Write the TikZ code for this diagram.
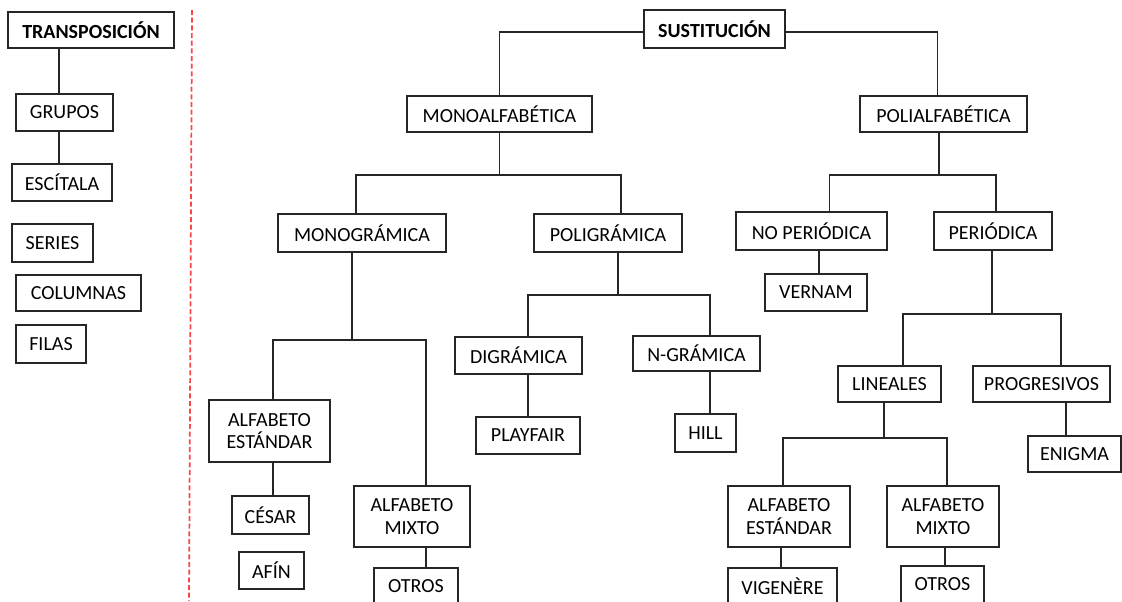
\documentclass[tikz,border=0pt]{standalone}
\usepackage{fontspec}
\setmainfont{Carlito}
\usetikzlibrary{calc}

\definecolor{rojo}{RGB}{250,70,75}
\tikzset{
  caja/.style={draw=black!85, line width=1.25pt, inner sep=0pt, align=center,
    font=\fontsize{15}{17}\selectfont},
  ancho/.style={minimum width=#1*0.75pt},
  alto/.style={minimum height=#1*0.75pt},
  linea/.style={draw=black!85, line width=1.2pt},
}

\begin{document}
\begin{tikzpicture}[x=0.75pt, y=-0.75pt]
    \clip (0,0) rectangle (1122,601);
    \begin{scope} % Transposicion
        \node[caja, ancho=166, alto=36] (transp) at (91,30) {\bfseries TRANSPOSICIÓN};
        \node[caja, ancho=97, alto=37] (grupos) at (64.5,112.5) {GRUPOS};
        \node[caja, ancho=100, alto=37] (escitala) at (62,182.5) {ESCÍTALA};
        \node[caja, ancho=81, alto=38] (series) at (52.5,243) {SERIES};
        \node[caja, ancho=125, alto=36] (columnas) at (78.5,293) {COLUMNAS};
        \node[caja, ancho=70, alto=38] (filas) at (51,344) {FILAS};
        \draw[linea] ($(grupos.north)+(-5.5,0)$) -- ++(0,-46);
        \draw[linea] ($(escitala.north)+(-3,0)$) -- ++(0,-33);
    \end{scope}
    \draw[rojo, line width=1.3pt, dash pattern=on 3.75pt off 2pt] (192,10) -- (189,601);
    \begin{scope} % Sustitucion
        \node[caja, ancho=141, alto=38] (sust) at (714.5,29) {\bfseries SUSTITUCIÓN};
        \node[caja, ancho=185, alto=36] (mono) at (499.5,114) {MONOALFABÉTICA};
        \node[caja, ancho=167, alto=36] (poli) at (943.5,114) {POLIALFABÉTICA};
        \draw[linea] (mono.north) |- ($(sust.west)+(0,3)$);
        \draw[linea] ($(poli.north)+(-6,0)$) |- ($(sust.east)+(0,3)$);
    \end{scope}
    \begin{scope} % Monoalfabetica
        \node[caja, ancho=168, alto=38] (monog) at (362,233) {MONOGRÁMICA};
        \node[caja, ancho=148, alto=38] (polig) at (608,233) {POLIGRÁMICA};
        \draw[linea] (mono.south) -- ++(0,42) coordinate (bm);
        \draw[linea] ($(monog.north)+(-6,0)$) |- (bm) -| ($(polig.north)+(13,0)$);
        \node[caja, ancho=121, alto=62] (altest) at (269.5,431) {ALFABETO\\ESTÁNDAR};
        \node[caja, ancho=116, alto=61] (altmix) at (412,516.5) {ALFABETO\\MIXTO};
        \draw[linea] ($(monog.south)+(-10,0)$) -- ++(0,87) coordinate (bmg);
        \draw[linea] ($(altest.north)+(3.5,0)$) |- (bmg) -| ($(altmix.north)+(14,0)$);
        \node[caja, ancho=77, alto=38] (cesar) at (270.5,515) {CÉSAR};
        \node[caja, ancho=65, alto=37] (afin) at (271.5,570.5) {AFÍN};
        \node[caja, ancho=84, alto=37] (otros) at (416,586.5) {OTROS};
        \draw[linea] ($(cesar.north)+(2.5,0)$) -- ++(0,-34);
        \draw[linea] ($(otros.north)+(10,0)$) -- ++(0,-21);
        \node[caja, ancho=127, alto=37] (digr) at (518.5,355.5) {DIGRÁMICA};
        \node[caja, ancho=127, alto=35] (ngr) at (696.5,353.5) {N-GRÁMICA};
        \draw[linea] ($(polig.south)+(10,0)$) -- ++(0,42) coordinate (bpg);
        \draw[linea] ($(digr.north)+(9.5,0)$) |- (bpg) -| ($(ngr.north)+(13.5,0)$);
        \node[caja, ancho=104, alto=37] (playfair) at (528,435.5) {PLAYFAIR};
        \node[caja, ancho=61, alto=38] (hill) at (705.5,433) {HILL};
        \draw[linea] (playfair.north) -- ++(0,-43);
        \draw[linea] ($(hill.north)+(4.5,0)$) -- ++(0,-43);
    \end{scope}
    \begin{scope} % Polialfabetica
        \node[caja, ancho=151, alto=38] (noper) at (811.5,231) {NO PERIÓDICA};
        \node[caja, ancho=118, alto=38] (per) at (993,231) {PERIÓDICA};
        \draw[linea] ($(poli.south)+(-4.5,0)$) -- ++(0,42) coordinate (bp);
        \draw[linea] ($(noper.north)+(18,0)$) |- (bp) -| ($(per.north)+(3,0)$);
        \node[caja, ancho=102, alto=37] (vernam) at (816,292.5) {VERNAM};
        \draw[linea] ($(vernam.north)+(3,0)$) -- ++(0,-24);
        \node[caja, ancho=103, alto=36] (lineales) at (889.5,384) {LINEALES};
        \node[caja, ancho=137, alto=36] (progr) at (1041.5,384) {PROGRESIVOS};
        \draw[linea] ($(per.south)+(-1,0)$) -- ++(0,63) coordinate (bpe);
        \draw[linea] ($(lineales.north)+(13.5,0)$) |- (bpe) -| ($(progr.north)+(19.5,0)$);
        \node[caja, ancho=93, alto=36] (enigma) at (1074.5,454) {ENIGMA};
        \draw[linea] ($(enigma.north)+(-8.5,0)$) -- ++(0,-34);
        \node[caja, ancho=122, alto=61] (altestb) at (789,516.5) {ALFABETO\\ESTÁNDAR};
        \node[caja, ancho=112, alto=61] (altmixb) at (943,516.5) {ALFABETO\\MIXTO};
        \draw[linea] ($(lineales.south)+(-5.5,0)$) -- ++(0,35) coordinate (bl);
        \draw[linea] ($(altestb.north)+(-6,0)$) |- (bl) -| ($(altmixb.north)+(4,0)$);
        \node[caja, ancho=109, alto=37] (vigenere) at (782.5,586.5) {VIGENÈRE};
        \node[caja, ancho=83, alto=37] (otrosb) at (942.5,584.5) {OTROS};
        \draw[linea] ($(vigenere.north)+(-1.5,0)$) -- ++(0,-21);
        \draw[linea] ($(otrosb.north)+(2.5,0)$) -- ++(0,-19);
    \end{scope}
\end{tikzpicture}
\end{document}
